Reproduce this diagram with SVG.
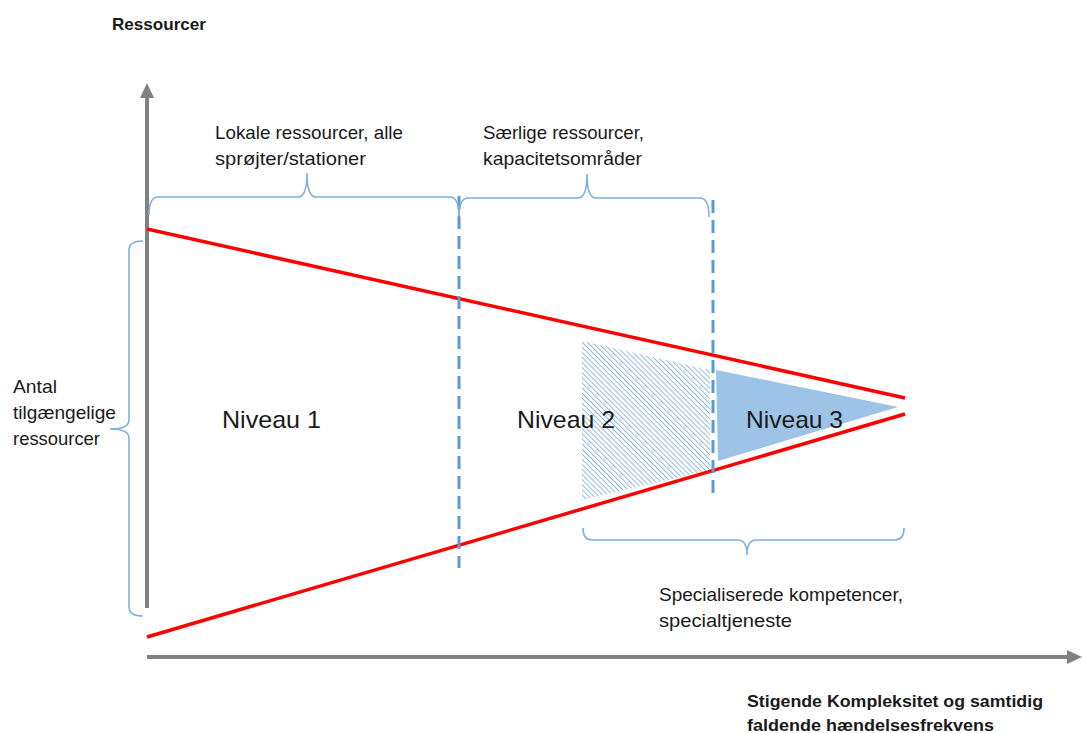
<svg xmlns="http://www.w3.org/2000/svg" width="1082" height="733" viewBox="0 0 1082 733">
<defs>
<style>
.t{font-family:"Liberation Sans",Arial,sans-serif;fill:#1a1a1a;}
.b{font-weight:bold;}
.s{font-size:18.5px;}
.n{font-size:24px;}
.brace{fill:none;stroke:#7fb0de;stroke-width:1.6;}
.axis{stroke:#808080;stroke-width:4;fill:none;}
.red{stroke:#ff0000;stroke-width:3.5;fill:none;}
.dash{stroke:#5b9bd5;stroke-width:3;stroke-dasharray:13 7;fill:none;}
</style>
<pattern id="hatch" patternUnits="userSpaceOnUse" width="3.6" height="3.6" patternTransform="rotate(-45)">
<rect width="3.6" height="3.6" fill="#ffffff"/>
<line x1="0" y1="0" x2="0" y2="3.6" stroke="#6fa5d9" stroke-width="1.5"/>
</pattern>
</defs>
<rect width="1082" height="733" fill="#ffffff"/>
<g id="hatched-area"><polygon points="582,341 710,370 710,470 582,500" fill="url(#hatch)"/></g>
<g id="niveau3-area"><polygon points="716,370 898,407 718,461" fill="#9dc3e6"/></g>
<g id="connectors">
<line class="axis" x1="147" y1="608" x2="147" y2="97"/>
<polygon points="140,98 154,98 147,83" fill="#808080"/>
<line class="axis" x1="147" y1="657" x2="1068" y2="657"/>
<polygon points="1067,650 1067,664 1082,657" fill="#808080"/>
<line class="red" x1="147" y1="229" x2="905" y2="398"/>
<line class="red" x1="147" y1="637" x2="905" y2="414"/>
<line class="dash" x1="459" y1="196" x2="459" y2="568"/>
<line class="dash" x1="713" y1="200" x2="713" y2="493"/>
</g>
<g id="braces">
<path class="brace" d="M149,215 Q149,197 158,197 L298,197 Q307,197 307,173 Q307,197 316,197 L450,197 Q459,197 459,217"/>
<path class="brace" d="M459,217 Q459,198 468,198 L578,198 Q587,198 587,174 Q587,198 596,198 L700,198 Q709,198 709,217"/>
<path class="brace" d="M143,241 Q129,241 129,250 L129,420 Q129,429 110,429 Q129,429 129,438 L129,607 Q129,616 143,616"/>
<path class="brace" d="M583,528 Q583,540 592,540 L738,540 Q747,540 747,555 Q747,540 756,540 L895,540 Q904,540 904,528"/>
</g>
<g id="labels">
<text class="t b" x="112" y="30" font-size="17" textLength="94" lengthAdjust="spacingAndGlyphs">Ressourcer</text>
<text class="t s" x="215" y="139" textLength="188" lengthAdjust="spacingAndGlyphs">Lokale ressourcer, alle</text>
<text class="t s" x="215" y="165" textLength="151" lengthAdjust="spacingAndGlyphs">sprøjter/stationer</text>
<text class="t s" x="483" y="139" textLength="161" lengthAdjust="spacingAndGlyphs">Særlige ressourcer,</text>
<text class="t s" x="483" y="165" textLength="159" lengthAdjust="spacingAndGlyphs">kapacitetsområder</text>
<text class="t s" x="13" y="393" textLength="44" lengthAdjust="spacingAndGlyphs">Antal</text>
<text class="t s" x="13" y="419" textLength="103" lengthAdjust="spacingAndGlyphs">tilgængelige</text>
<text class="t s" x="13" y="445" textLength="87" lengthAdjust="spacingAndGlyphs">ressourcer</text>
<text class="t n" x="222" y="428" textLength="99" lengthAdjust="spacingAndGlyphs">Niveau 1</text>
<text class="t n" x="517" y="428" textLength="98" lengthAdjust="spacingAndGlyphs">Niveau 2</text>
<text class="t n" x="746" y="428" textLength="97" lengthAdjust="spacingAndGlyphs">Niveau 3</text>
<text class="t s" x="659" y="601" textLength="244" lengthAdjust="spacingAndGlyphs">Specialiserede kompetencer,</text>
<text class="t s" x="659" y="627" textLength="133" lengthAdjust="spacingAndGlyphs">specialtjeneste</text>
<text class="t b" x="747" y="707" font-size="17" textLength="296" lengthAdjust="spacingAndGlyphs">Stigende Kompleksitet og samtidig</text>
<text class="t b" x="747" y="731" font-size="17" textLength="247" lengthAdjust="spacingAndGlyphs">faldende hændelsesfrekvens</text>
</g>
</svg>
